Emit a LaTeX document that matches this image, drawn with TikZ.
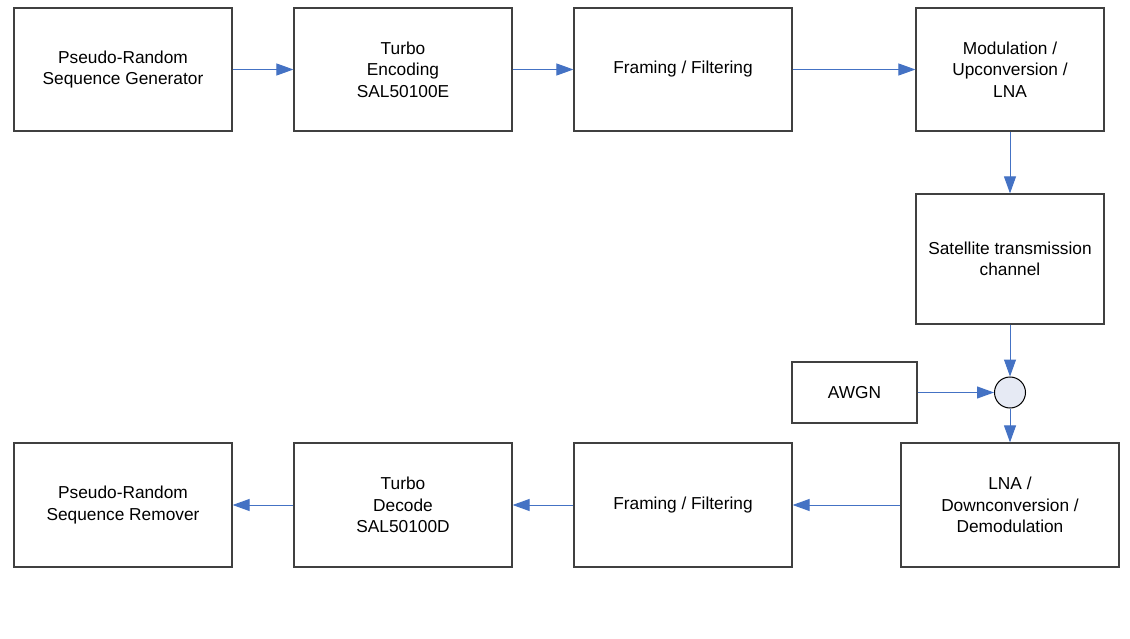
\documentclass[tikz,border=0pt]{standalone}
\usepackage{fontspec}
\setmainfont{Liberation Sans}
\usetikzlibrary{arrows.meta}
\definecolor{flowblue}{RGB}{68,114,196}
\definecolor{sumfill}{RGB}{230,234,244}
\begin{document}
\begin{tikzpicture}[x=1pt,y=-1pt,
  blk/.style={draw=black!75, line width=1.2pt, fill=white,
    font=\fontsize{17.3}{21.5}\selectfont, align=center, inner sep=0pt,
    minimum width=218pt, minimum height=123pt},
  flow/.style={draw=flowblue, line width=1pt,
    -{Triangle[length=17pt,width=12pt,fill=flowblue]}},
  sum/.style={circle, draw=black, line width=1pt, fill=sumfill,
    minimum size=31pt, inner sep=0pt}]
\useasboundingbox[fill=white] (0,0) rectangle (1130,639);

% transmit chain
\node[blk] (prsg) at (123,69.5) {Pseudo-Random\\Sequence Generator};
\node[blk] (tenc) at (403,69.5) {Turbo\\Encoding\\SAL50100E};
\node[blk] (ftx)  at (683,69.5) {Framing / Filtering};
\node[blk, minimum width=188pt] (mod) at (1010,69.5) {Modulation /\\Upconversion /\\LNA};

% channel and noise
\node[blk, minimum width=188pt, minimum height=130pt] (sat) at (1010,259) {Satellite transmission\\channel};
\node[blk, minimum width=125pt, minimum height=61pt] (awgn) at (854.5,392.5) {AWGN};
\node[sum] (add) at (1010,392.5) {};

% receive chain
\node[blk, minimum height=124pt] (lna) at (1010,505) {LNA /\\Downconversion /\\Demodulation};
\node[blk, minimum height=124pt] (frx) at (683,505) {Framing / Filtering};
\node[blk, minimum height=124pt] (tdec) at (403,505) {Turbo\\Decode\\SAL50100D};
\node[blk, minimum height=124pt] (prsr) at (123,505) {Pseudo-Random\\Sequence Remover};

% connectors
\draw[flow] (prsg) -- (tenc);
\draw[flow] (tenc) -- (ftx);
\draw[flow] (ftx) -- (mod);
\draw[flow] (mod) -- (sat);
\draw[flow] (sat) -- (add);
\draw[flow] (awgn) -- (add);
\draw[flow] (add) -- (lna);
\draw[flow] (lna) -- (frx);
\draw[flow] (frx) -- (tdec);
\draw[flow] (tdec) -- (prsr);
\end{tikzpicture}
\end{document}
